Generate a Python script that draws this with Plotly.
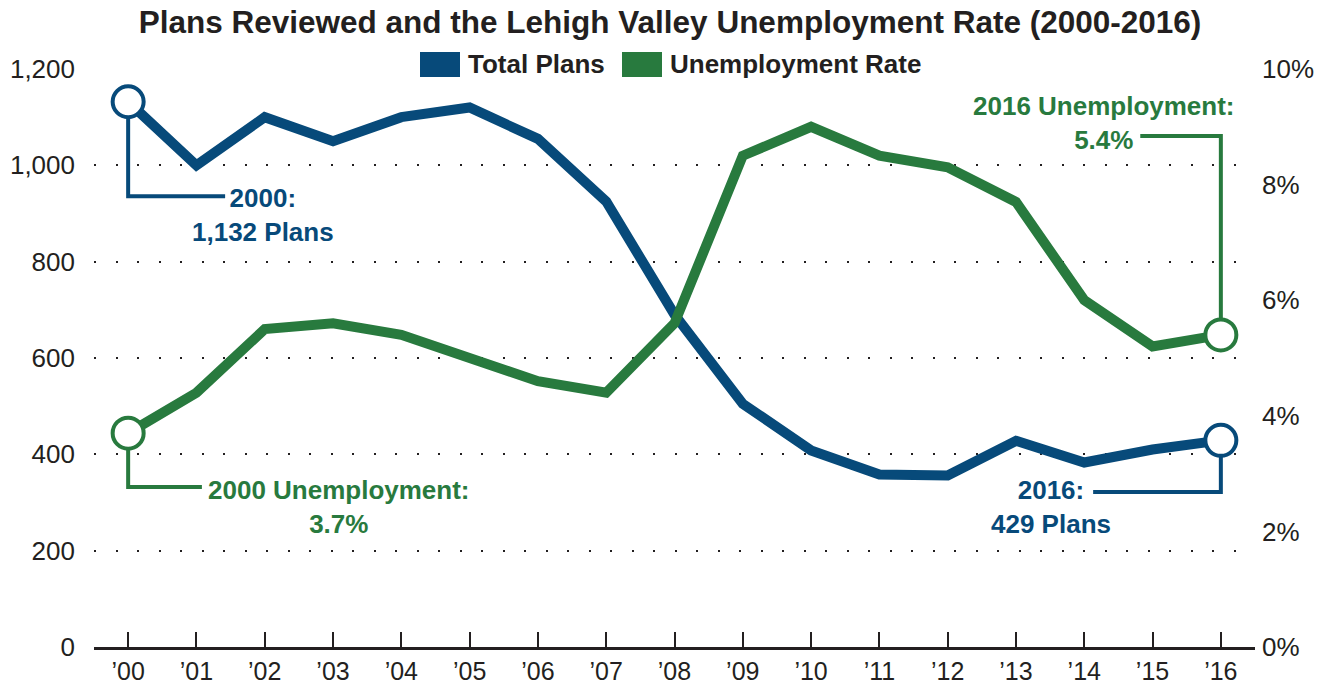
import plotly.graph_objects as go

# Data
years = ["’00", "’01", "’02", "’03", "’04", "’05", "’06", "’07", "’08",
         "’09", "’10", "’11", "’12", "’13", "’14", "’15", "’16"]
total_plans = [1132, 1000, 1100, 1050, 1100, 1120, 1055, 925, 690,
               505, 408, 358, 356, 428, 383, 410, 429]
unemployment = [3.7, 4.4, 5.5, 5.6, 5.4, 5.0, 4.6, 4.4, 5.6,
                8.5, 9.0, 8.5, 8.3, 7.7, 6.0, 5.2, 5.4]
plans_ticks = [0, 200, 400, 600, 800, 1000, 1200]
rate_ticks = [0, 2, 4, 6, 8, 10]
rate_labels = [f"{v}%" for v in rate_ticks]

BLUE = "#074a7a"
GREEN = "#287a3e"
INK = "#231f20"
FONT = "Liberation Sans Narrow, Arial Narrow, Liberation Sans, Arial, sans-serif"

x = list(range(len(years)))
last = len(years) - 1

fig = go.Figure()

fig.add_trace(go.Scatter(
    x=x, y=total_plans, mode="lines", name="Total Plans",
    line=dict(color=BLUE, width=10), yaxis="y", showlegend=False,
    hoverinfo="skip"))
fig.add_trace(go.Scatter(
    x=x, y=unemployment, mode="lines", name="Unemployment Rate",
    line=dict(color=GREEN, width=10), yaxis="y2", showlegend=False,
    hoverinfo="skip"))

# Open circle highlights at the first and last year
fig.add_trace(go.Scatter(
    x=[0, last], y=[total_plans[0], total_plans[last]], mode="markers",
    marker=dict(size=31, color="white", line=dict(color=BLUE, width=4)),
    yaxis="y", showlegend=False, hoverinfo="skip"))
fig.add_trace(go.Scatter(
    x=[0, last], y=[unemployment[0], unemployment[last]], mode="markers",
    marker=dict(size=31, color="white", line=dict(color=GREEN, width=4)),
    yaxis="y2", showlegend=False, hoverinfo="skip"))

shapes = []
annotations = []


def callout(xp, yp, yref, y_elbow, x_end, x_text, y_text, text, color):
    shapes.append(dict(
        type="path", xref="x", yref=yref, layer="below",
        path=f"M {xp},{yp} L {xp},{y_elbow} L {x_end},{y_elbow}",
        line=dict(color=color, width=4)))
    annotations.append(dict(
        x=x_text, y=y_text, xref="x", yref=yref, text=text, showarrow=False,
        xanchor="center", yanchor="middle", align="center",
        font=dict(family=FONT, size=26, color=color, weight="bold")))


callout(0, total_plans[0], "y", 936, 1.42, 1.98, 896,
        f"2000:<br>{total_plans[0]:,} Plans", BLUE)
callout(0, unemployment[0], "y2", 2.77, 1.08, 3.09, 2.42,
        f"2000 Unemployment:<br>{unemployment[0]}%", GREEN)
callout(last, unemployment[last], "y2", 8.84, 14.82, 14.29, 9.06,
        f"2016 Unemployment:<br>{unemployment[last]}%", GREEN)
callout(last, total_plans[last], "y", 322, 14.13, 13.51, 291,
        f"2016:<br>{total_plans[last]:,} Plans", BLUE)

# Legend swatches and labels
legend_items = [("Total Plans", BLUE, 420, 466), ("Unemployment Rate", GREEN, 622, 668)]
for label, color, x0, xt in legend_items:
    shapes.append(dict(type="rect", xref="paper", yref="paper",
                       x0=(x0 - 94) / 1161, x1=(x0 + 40 - 94) / 1161,
                       y0=(647 - 77) / 578, y1=(647 - 52) / 578,
                       fillcolor=color, line=dict(width=0)))
    annotations.append(dict(x=(xt - 94) / 1161, y=(647 - 64.5) / 578,
                            xref="paper", yref="paper", text=label,
                            showarrow=False, xanchor="left", yanchor="middle",
                            font=dict(family=FONT, size=26, color=INK, weight="bold")))

fig.update_layout(
    width=1321, height=685,
    margin=dict(l=94, r=66, t=69, b=38, autoexpand=False),
    paper_bgcolor="white", plot_bgcolor="white",
    font=dict(family=FONT, color=INK, size=26),
    title=dict(text="Plans Reviewed and the Lehigh Valley Unemployment Rate (2000-2016)",
               x=670 / 1321, xanchor="center", y=1 - 22 / 685, yanchor="middle",
               font=dict(family=FONT, size=31.5, color=INK, weight="bold")),
    xaxis=dict(range=[-0.5, 16.5], tickvals=x, ticktext=years,
               showgrid=False, zeroline=False, automargin=False,
               showline=True, linecolor=INK, linewidth=3,
               ticks="inside", ticklen=15, tickwidth=2, tickcolor=INK,
               ticklabelstandoff=0,
               tickfont=dict(size=25, color=INK), fixedrange=True),
    yaxis=dict(range=[0, 1200], tickvals=plans_ticks, tickformat=",",
               showgrid=True, gridcolor=INK, gridwidth=2, griddash="2px,19.5px",
               zeroline=False, showline=False, ticks="", ticklabelstandoff=18,
               automargin=False, tickfont=dict(size=26, color=INK)),
    yaxis2=dict(range=[0, 10], tickvals=rate_ticks, ticktext=rate_labels,
                overlaying="y", side="right", showgrid=False, zeroline=False,
                showline=False, ticks="", ticklabelstandoff=6, automargin=False,
                tickfont=dict(size=26, color=INK)),
    shapes=shapes, annotations=annotations,
)

fig.write_html("out.html")
